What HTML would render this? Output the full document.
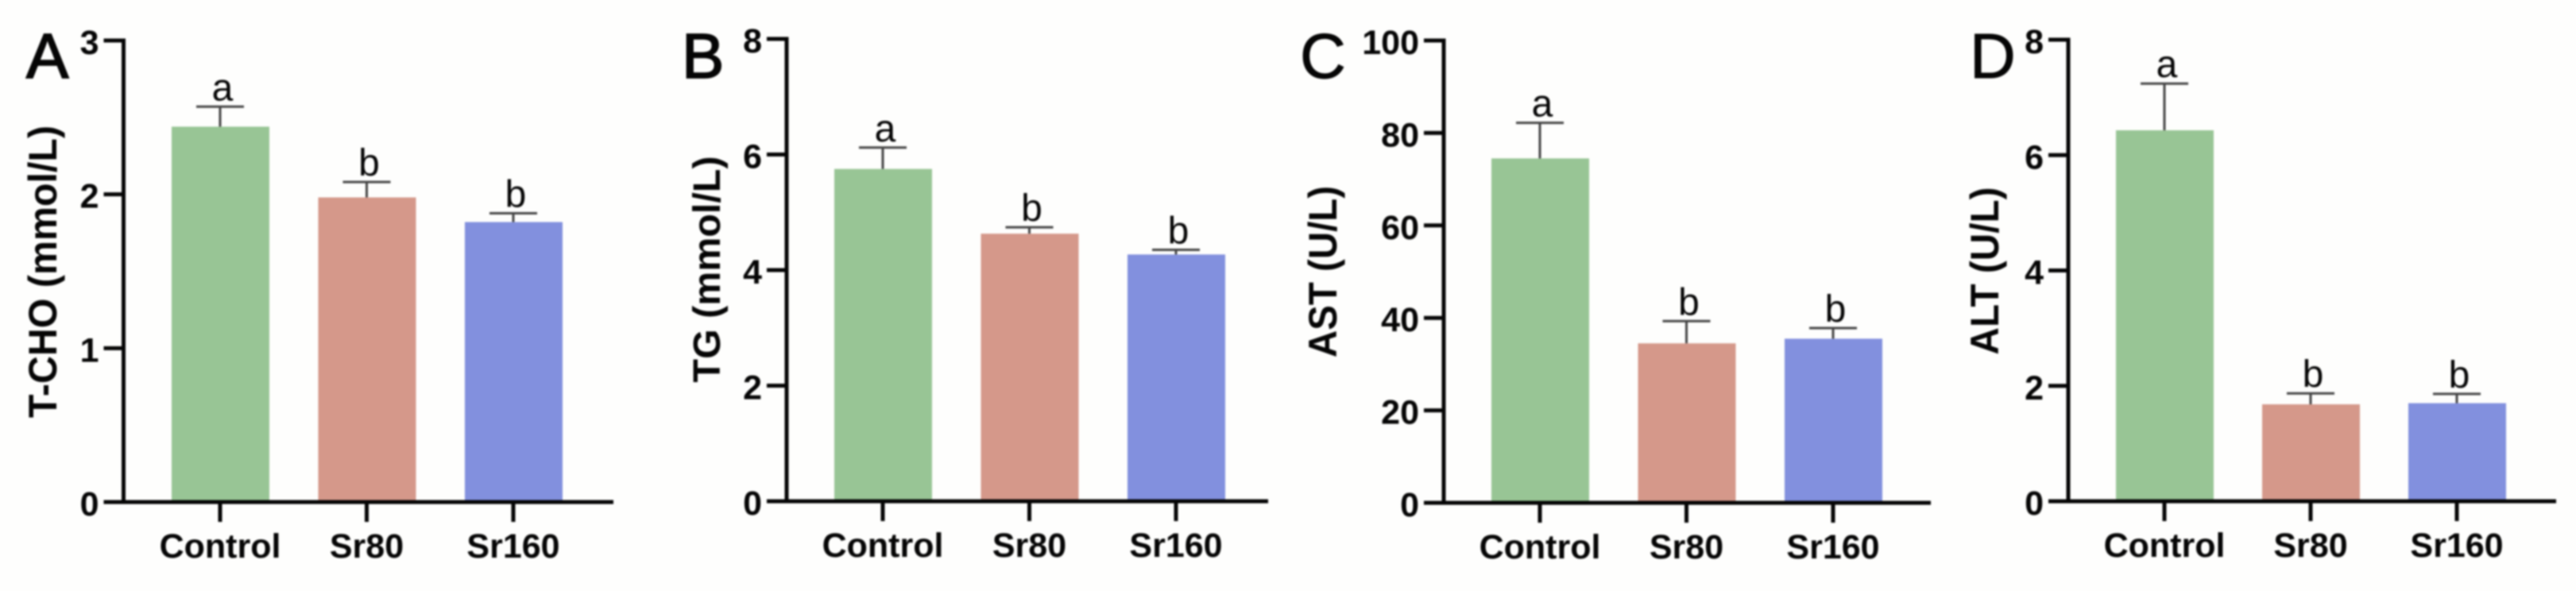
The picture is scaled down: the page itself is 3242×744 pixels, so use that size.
<!DOCTYPE html>
<html lang="en">
<head>
<meta charset="utf-8">
<title>Serum lipid and liver enzyme bar charts</title>
<style>
html,body{margin:0;padding:0;background:#fefefd;width:3242px;height:744px;overflow:hidden}
svg{display:block;filter:blur(1.1px)}
text{font-family:"Liberation Sans",Arial,sans-serif;fill:#050505}
</style>
</head>
<body>
<svg id="figure" xmlns="http://www.w3.org/2000/svg" width="3242" height="744" viewBox="0 0 3242 744"></svg>
<script>
// ---- data ----
const categories = ["Control", "Sr80", "Sr160"];
const barColors = ["#98c595", "#d5988a", "#8290de"];

const tchoValues = [2.44, 1.98, 1.82];
const tchoErrors = [0.13, 0.10, 0.057];
const tchoLetters = ["a", "b", "b"];
const tchoTicks = [0, 1, 2, 3];

const tgValues = [5.75, 4.63, 4.27];
const tgErrors = [0.37, 0.11, 0.08];
const tgLetters = ["a", "b", "b"];
const tgTicks = [0, 2, 4, 6, 8];

const astValues = [74.5, 34.5, 35.5];
const astErrors = [7.7, 4.8, 2.3];
const astLetters = ["a", "b", "b"];
const astTicks = [0, 20, 40, 60, 80, 100];

const altValues = [6.43, 1.68, 1.70];
const altErrors = [0.81, 0.19, 0.16];
const altLetters = ["a", "b", "b"];
const altTicks = [0, 2, 4, 6, 8];

// ---- drawing ----
const NS = "http://www.w3.org/2000/svg";
const fig = document.getElementById("figure");

function make(parent, tag, attrs, content) {
  const el = document.createElementNS(NS, tag);
  for (const k in attrs) el.setAttribute(k, attrs[k]);
  if (content !== undefined) el.textContent = content;
  parent.appendChild(el);
  return el;
}

function drawPanel(p) {
  const g = make(fig, "g", {});
  
  

  const yScale = v => p.y0 - (v / p.max) * (p.y0 - p.yTop);
  const xScale = i => p.xFirst + i * p.step;
  const barW = 123;

  const letter = make(g, "text", {x: p.letterX, y: 98, "font-size": 80, stroke: "#050505", "stroke-width": p.letterStroke}, p.letter);
  
  

  const title = make(g, "text", {
    transform: "translate(" + p.titleX + "," + p.titleY + ") rotate(-90)",
    "text-anchor": "middle", "font-size": p.titleSize, "font-weight": "bold",
    textLength: p.titleLen, lengthAdjust: "spacingAndGlyphs"
  }, p.title);
  
  

  p.values.forEach((v, i) => {
    const cx = xScale(i);
    const top = yScale(v);
    const capY = yScale(v + p.errors[i]);

    const bar = make(g, "rect", {x: cx - barW / 2 + 0.5, y: top, width: barW, height: p.y0 - top, fill: barColors[i]});
    
    

    const stem = make(g, "line", {x1: cx, x2: cx, y1: top, y2: capY, stroke: "#444", "stroke-width": 3});
    
    

    const cap = make(g, "line", {x1: cx - 30, x2: cx + 30, y1: capY, y2: capY, stroke: "#444", "stroke-width": 3});
    
    

    const sig = make(g, "text", {x: cx + 3, y: capY - 8, "text-anchor": "middle", "font-size": 48, fill: "#222"}, p.letters[i]);
    
    

    const xt = make(g, "line", {x1: cx, x2: cx, y1: p.y0, y2: p.y0 + 25, stroke: "#050505", "stroke-width": 5});
    
    

    const xl = make(g, "text", {x: cx, y: p.y0 + 70, "text-anchor": "middle", "font-size": 43, "font-weight": "bold"}, categories[i]);
    
    
  });

  p.ticks.forEach(t => {
    const y = yScale(t);
    const yt = make(g, "line", {x1: p.axisX - 25, x2: p.axisX, y1: y, y2: y, stroke: "#050505", "stroke-width": 5});
    
    

    const yl = make(g, "text", {x: p.axisX - 31, y: y + 17, "text-anchor": "end", "font-size": 43, "font-weight": "bold"}, String(t));
    
    
  });

  const yAxis = make(g, "line", {x1: p.axisX, x2: p.axisX, y1: p.yTop - 2.5, y2: p.y0 + 2.5, stroke: "#050505", "stroke-width": 5});
  
  

  const xAxis = make(g, "line", {x1: p.axisX - 25, x2: p.xEnd, y1: p.y0, y2: p.y0, stroke: "#050505", "stroke-width": 5});
  
  
}

drawPanel({key: "a", letter: "A", letterX: 33, letterStroke: 1.8, title: "T-CHO (mmol/L)", titleX: 71, titleY: 342, titleSize: 50, titleLen: 368,
  values: tchoValues, errors: tchoErrors, letters: tchoLetters, ticks: tchoTicks, max: 3,
  axisX: 155.5, y0: 632, yTop: 51, xFirst: 277, step: 184.5, xEnd: 772});
drawPanel({key: "b", letter: "B", letterX: 858, letterStroke: 1.8, title: "TG (mmol/L)", titleX: 906, titleY: 339, titleSize: 48, titleLen: 285,
  values: tgValues, errors: tgErrors, letters: tgLetters, ticks: tgTicks, max: 8,
  axisX: 990, y0: 631, yTop: 49, xFirst: 1111, step: 184.5, xEnd: 1596});
drawPanel({key: "c", letter: "C", letterX: 1636, letterStroke: 1, title: "AST (U/L)", titleX: 1682, titleY: 342, titleSize: 50, titleLen: 216,
  values: astValues, errors: astErrors, letters: astLetters, ticks: astTicks, max: 100,
  axisX: 1817, y0: 633, yTop: 51, xFirst: 1938, step: 184.5, xEnd: 2430});
drawPanel({key: "d", letter: "D", letterX: 2479, letterStroke: 1, title: "ALT (U/L)", titleX: 2515, titleY: 341, titleSize: 50, titleLen: 211,
  values: altValues, errors: altErrors, letters: altLetters, ticks: altTicks, max: 8,
  axisX: 2603, y0: 631, yTop: 50, xFirst: 2724, step: 184, xEnd: 3217});
</script>
</body>
</html>
